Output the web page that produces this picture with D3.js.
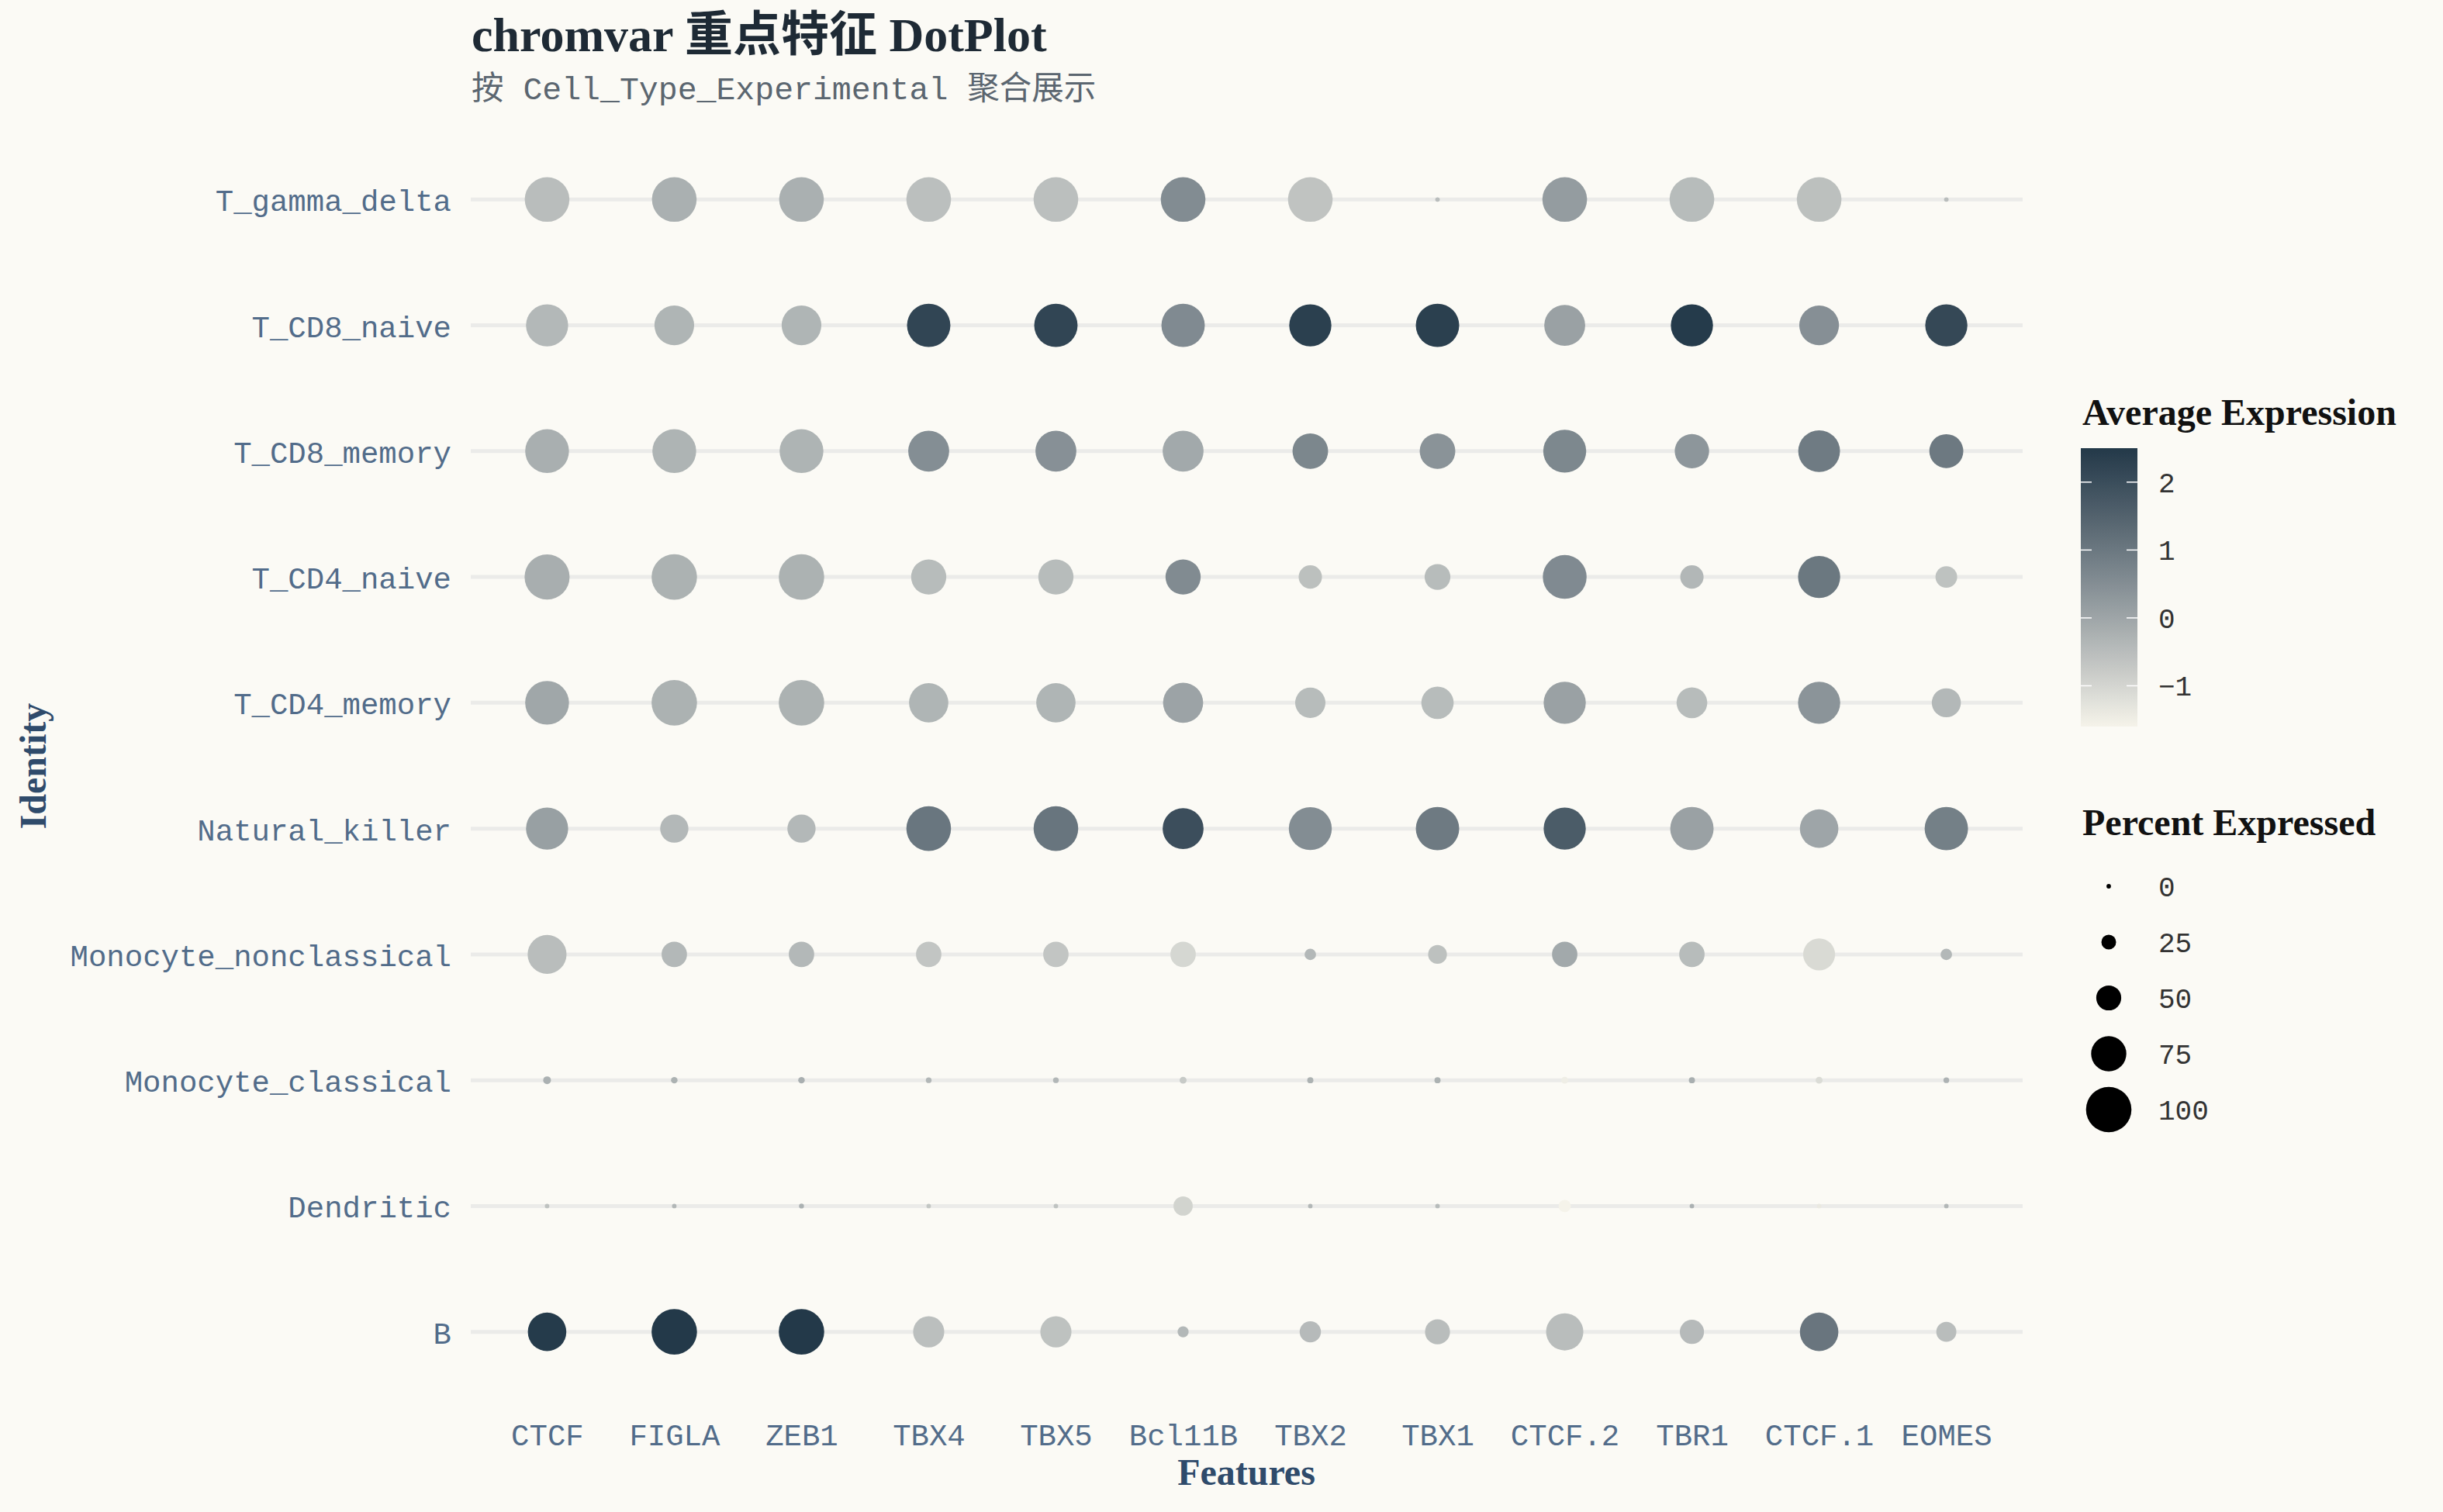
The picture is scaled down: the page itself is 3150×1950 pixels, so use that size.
<!DOCTYPE html>
<html>
<head>
<meta charset="utf-8">
<script src="https://cdn.jsdelivr.net/npm/d3@7/dist/d3.min.js"></script>
<style>
  body { margin: 0; background: #fbfaf5; }
</style>
</head>
<body>
<div id="chart"></div>
<script>
// identities, top to bottom
var identities = ["T_gamma_delta", "T_CD8_naive", "T_CD8_memory", "T_CD4_naive", "T_CD4_memory",
  "Natural_killer", "Monocyte_nonclassical", "Monocyte_classical", "Dendritic", "B"];
var features = ["CTCF", "FIGLA", "ZEB1", "TBX4", "TBX5", "Bcl11B", "TBX2", "TBX1", "CTCF.2", "TBR1", "CTCF.1", "EOMES"];

// average expression, one row per identity
var avgExp = [
  [-0.5, -0.23, -0.23, -0.54, -0.54, 0.54, -0.63, -0.5, 0.19, -0.48, -0.56, -0.5],
  [-0.4, -0.33, -0.33, 2.2, 2.2, 0.58, 2.33, 2.33, 0.08, 2.45, 0.47, 2.13],
  [-0.2, -0.31, -0.31, 0.5, 0.45, -0.08, 0.66, 0.39, 0.64, 0.32, 0.93, 0.97],
  [-0.18, -0.27, -0.27, -0.48, -0.48, 0.56, -0.56, -0.48, 0.58, -0.37, 1.0, -0.6],
  [-0.04, -0.27, -0.27, -0.33, -0.33, 0.04, -0.48, -0.48, 0.08, -0.48, 0.36, -0.4],
  [0.12, -0.4, -0.4, 1.04, 1.06, 1.97, 0.52, 0.95, 1.65, 0.08, 0.0, 0.82],
  [-0.5, -0.4, -0.4, -0.67, -0.67, -1.03, -0.4, -0.58, -0.08, -0.48, -1.09, -0.4],
  [-0.25, -0.27, -0.2, -0.38, -0.38, -0.77, -0.27, -0.27, -1.5, -0.2, -1.13, -0.28],
  [-0.6, -0.38, -0.25, -0.7, -0.62, -0.97, -0.38, -0.48, -1.6, -0.25, -1.4, -0.38],
  [2.45, 2.5, 2.5, -0.55, -0.6, -0.4, -0.45, -0.5, -0.5, -0.45, 1.05, -0.5]
];

// percent expressed
var pctExp = [
  [98, 98, 98, 98, 98, 98, 98, 0, 98, 98, 98, 0],
  [92, 86, 86, 95, 95, 95, 92, 95, 89, 92, 86, 92],
  [96, 96, 96, 89, 89, 89, 76, 76, 94, 73, 91, 72],
  [99, 100, 100, 75, 75, 75, 46, 52, 96, 46, 92, 42],
  [96, 100, 100, 85, 85, 87, 63, 68, 92, 64, 92, 60],
  [92, 58, 58, 98, 98, 89, 94, 95, 92, 95, 83, 95],
  [84, 51, 51, 51, 51, 51, 17, 35, 51, 51, 67, 17],
  [8, 5, 5, 3, 3, 6, 4, 4, 6, 4, 6, 3],
  [0, 0, 1, 0, 0, 36, 0, 0, 19, 0, 0, 0],
  [83, 100, 100, 65, 65, 16, 41, 50, 80, 48, 83, 38]
];

var colorTicks = [-1, 0, 1, 2];
var sizeTicks = [0, 25, 50, 75, 100];

var W = 3150, H = 1950;
var mono = "'Liberation Mono', 'DejaVu Sans Mono', monospace";
var serif = "'Liberation Serif', 'Noto Sans CJK SC', serif";

var svg = d3.select("#chart")
  .append("svg")
  .attr("width", W)
  .attr("height", H)
  .style("background", "#fbfaf5");

var x = d3.scalePoint().domain(features).range([607, 2608]).padding(0.6);
var y = d3.scalePoint().domain(identities).range([160, 1815]).padding(0.6);

var cells = [];
identities.forEach(function(id, i) {
  features.forEach(function(f, j) {
    cells.push({ id: id, feature: f, avg: avgExp[i][j], pct: pctExp[i][j] });
  });
});

var color = d3.scaleLinear()
  .domain(d3.extent(cells, function(d) { return d.avg; }))
  .range(["#f5f3ea", "#233949"])
  .interpolate(d3.interpolateLab);

var size = d3.scaleLinear().domain([0, 100]).range([2.9, 29.3]);

// grid lines, one per identity
svg.append("g")
  .selectAll("line")
  .data(identities)
  .enter()
  .append("line")
  .attr("x1", 607)
  .attr("x2", 2608)
  .attr("y1", function(d) { return y(d); })
  .attr("y2", function(d) { return y(d); })
  .style("stroke", "#ebebe9")
  .style("stroke-width", 5);

// dots
svg.append("g")
  .selectAll("circle")
  .data(cells)
  .enter()
  .append("circle")
  .attr("cx", function(d) { return x(d.feature); })
  .attr("cy", function(d) { return y(d.id); })
  .attr("r", function(d) { return size(d.pct); })
  .style("fill", function(d) { return color(d.avg); });

// axes
var yAxis = svg.append("g")
  .attr("transform", "translate(607,0)")
  .call(d3.axisLeft(y).tickSize(0).tickPadding(25));
yAxis.select(".domain").remove();
yAxis.selectAll("text")
  .attr("dy", "0.37em")
  .style("font-family", mono)
  .style("font-size", "39px")
  .style("fill", "#526c8a");

var xAxis = svg.append("g")
  .attr("transform", "translate(0,1815)")
  .call(d3.axisBottom(x).tickSize(0).tickPadding(0));
xAxis.select(".domain").remove();
xAxis.selectAll("text")
  .attr("y", 49)
  .attr("dy", 0)
  .style("font-family", mono)
  .style("font-size", "39px")
  .style("fill", "#526c8a");

svg.append("text")
  .attr("x", 1607)
  .attr("y", 1915)
  .attr("text-anchor", "middle")
  .style("font-family", serif)
  .style("font-weight", "bold")
  .style("font-size", "48px")
  .style("fill", "#2f4b6b")
  .text("Features");

svg.append("text")
  .attr("transform", "translate(59,988) rotate(-90)")
  .attr("text-anchor", "middle")
  .style("font-family", serif)
  .style("font-weight", "bold")
  .style("font-size", "48px")
  .style("fill", "#2f4b6b")
  .text("Identity");

// title + subtitle
svg.append("text")
  .attr("x", 608)
  .attr("y", 66)
  .style("font-family", serif)
  .style("font-weight", "bold")
  .style("font-size", "62px")
  .style("fill", "#1e2a35")
  .text("chromvar 重点特征 DotPlot");

svg.append("text")
  .attr("x", 608)
  .attr("y", 128)
  .style("font-family", mono + ", 'Noto Sans CJK SC'")
  .style("font-size", "41.5px")
  .style("fill", "#5b6670")
  .text("按 Cell_Type_Experimental 聚合展示");

// colour legend
var lg = svg.append("g");
lg.append("text")
  .attr("x", 2685)
  .attr("y", 548)
  .style("font-family", serif)
  .style("font-weight", "bold")
  .style("font-size", "48px")
  .style("fill", "#111")
  .text("Average Expression");

var dom = color.domain();
var barY = d3.scaleLinear().domain([dom[1], dom[0]]).range([578, 937]);

var grad = svg.append("defs")
  .append("linearGradient")
  .attr("id", "avgGrad")
  .attr("x1", 0).attr("y1", 1).attr("x2", 0).attr("y2", 0);
d3.range(0, 1.0001, 0.05).forEach(function(t) {
  grad.append("stop")
    .attr("offset", t)
    .attr("stop-color", color(dom[0] + t * (dom[1] - dom[0])));
});

lg.append("rect")
  .attr("x", 2683)
  .attr("y", barY(dom[1]))
  .attr("width", 73)
  .attr("height", barY(dom[0]) - barY(dom[1]))
  .style("fill", "url(#avgGrad)");

colorTicks.forEach(function(v) {
  lg.append("line")
    .attr("x1", 2683).attr("x2", 2697)
    .attr("y1", barY(v)).attr("y2", barY(v))
    .style("stroke", "#fff").style("stroke-width", 1.5);
  lg.append("line")
    .attr("x1", 2742).attr("x2", 2756)
    .attr("y1", barY(v)).attr("y2", barY(v))
    .style("stroke", "#fff").style("stroke-width", 1.5);
  lg.append("text")
    .attr("x", 2783)
    .attr("y", barY(v))
    .attr("dy", "0.36em")
    .style("font-family", mono)
    .style("font-size", "36px")
    .style("fill", "#333")
    .text(v < 0 ? "\u2212" + Math.abs(v) : v);
});

// size legend
var sg = svg.append("g");
sg.append("text")
  .attr("x", 2685)
  .attr("y", 1077)
  .style("font-family", serif)
  .style("font-weight", "bold")
  .style("font-size", "48px")
  .style("fill", "#111")
  .text("Percent Expressed");

sg.selectAll("circle")
  .data(sizeTicks)
  .enter()
  .append("circle")
  .attr("cx", 2719)
  .attr("cy", function(d, i) { return 1143 + i * 72; })
  .attr("r", function(d) { return size(d); })
  .style("fill", "#000");

sg.selectAll("text.lab")
  .data(sizeTicks)
  .enter()
  .append("text")
  .attr("class", "lab")
  .attr("x", 2783)
  .attr("y", function(d, i) { return 1143 + i * 72; })
  .attr("dy", "0.36em")
  .style("font-family", mono)
  .style("font-size", "36px")
  .style("fill", "#333")
  .text(function(d) { return d; });
</script>
</body>
</html>
